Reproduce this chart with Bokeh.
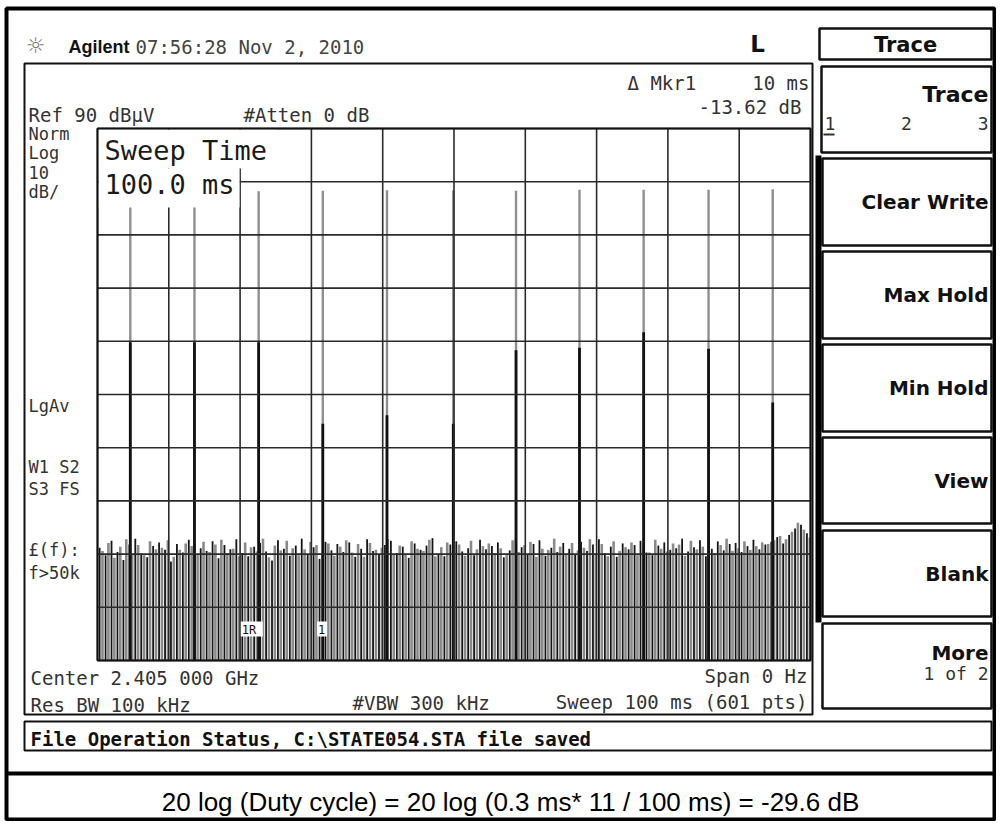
import numpy as np
from bokeh.plotting import figure
from bokeh.models import Range1d
from bokeh.core.properties import value
from bokeh.embed import file_html
from bokeh.resources import INLINE

# ---------------- data ----------------
sweep_ms = 100.0          # Sweep 100 ms
ref_level = 90.0          # Ref 90 dBuV
db_per_div = 10.0         # 10 dB/div, 10 divisions
n_div = 10

# 11 burst pulses (ms) and their peak levels (dBuV)
pulse_t = [4.6, 13.6, 22.6, 31.6, 40.6, 49.9, 58.7, 67.6, 76.6, 85.7, 94.7]
pulse_peak_gray = [78.5, 78.5, 78.2, 78.3, 78.4, 78.4, 78.3, 78.5, 78.5, 78.5, 78.6]
pulse_peak_black = [49.8, 49.8, 49.8, 34.5, 36.1, 34.5, 48.3, 48.8, 51.7, 48.6, 38.5]

# noise-floor line tops (dBuV), black and grey trace passes
noise_black = [
    11.2, 9.8, 12.5, 10.4, 8.9, 11.8, 12.9, 10.1, 9.4, 11.5, 12.2, 10.8, 8.6, 11.9, 10.3, 12.7, 9.9, 11.1, 10.6, 12.4,
    9.2, 11.7, 10.9, 12.8, 10.2, 9.6, 11.4, 12.1, 10.5, 8.8, 12.6, 11.0, 9.7, 11.6, 12.9, 10.0, 11.3, 9.1, 12.3, 10.7,
    11.9, 10.4, 12.2, 9.5, 11.0, 12.8, 10.6, 9.9, 11.7, 12.5, 10.2, 11.4, 9.3, 12.0, 10.8, 11.6, 13.0, 10.1, 9.6, 11.8,
    12.4, 10.5, 11.1, 9.8, 12.7, 10.9, 11.5, 12.2, 9.4, 10.7, 12.9, 11.3, 10.0, 11.9, 12.6, 9.7, 11.2, 10.4, 12.1, 11.0,
    9.9, 12.3, 10.6, 11.8, 12.8, 10.2, 11.4, 9.5, 12.0, 10.9, 11.7, 12.5, 10.3, 9.8, 11.6, 12.2, 10.8, 11.1, 12.9, 10.5,
    11.3, 12.6, 9.6, 11.0, 12.4, 10.7, 11.9, 12.1, 10.4, 11.5, 12.7, 10.9, 11.8, 12.3, 13.2, 12.0, 13.6, 14.8, 15.5, 13.9,
]
noise_gray = [
    10.6, 12.1, 9.3, 11.4, 12.8, 10.0, 11.7, 9.8, 12.4, 10.9, 11.2, 12.6, 9.5, 10.8, 12.0, 11.5, 9.9, 12.3, 10.4, 11.8,
    12.7, 10.2, 11.0, 9.6, 12.2, 11.3, 10.5, 12.9, 9.4, 11.6, 10.7, 12.5, 11.1, 9.8, 10.9, 12.3, 11.7, 10.1, 12.0, 9.7,
    11.4, 12.6, 10.3, 11.9, 9.5, 12.1, 10.8, 11.2, 12.8, 10.0, 11.6, 9.9, 12.4, 11.0, 10.6, 12.7, 9.6, 11.3, 12.2, 10.5,
    11.8, 9.7, 12.5, 10.9, 11.5, 12.0, 10.2, 11.1, 9.8, 12.6, 10.4, 11.7, 12.3, 9.5, 11.0, 10.8, 12.9, 11.4, 9.9, 12.1,
    10.7, 11.2, 12.8, 10.1, 11.9, 9.6, 12.4, 10.6, 11.3, 12.2, 9.8, 11.6, 10.3, 12.7, 11.0, 10.5, 12.0, 11.8, 9.7, 12.5,
    10.9, 11.4, 12.3, 10.2, 11.7, 12.9, 10.6, 11.1, 12.4, 10.8, 11.5, 12.2, 11.9, 12.6, 13.4, 12.8, 14.2, 15.9, 14.6, 13.1,
]

marker_t = [21.5, 31.5]          # delta marker pair (1R, 1)
marker_lbl = ["1R", "1"]

softkeys = ["Clear Write", "Max Hold", "Min Hold", "View", "Blank"]

# ---------------- layout (page pixels) ----------------
W, H = 996, 821
X0, Y0 = 0, 0
GX0, GX1, GY0, GY1 = 97.0, 810.0, 128.0, 660.0   # graticule
RX = 991                                          # right edge of right-hand boxes

p = figure(width=W, height=H, x_range=Range1d(X0, X0 + W), y_range=Range1d(Y0 + H, Y0),
           min_border=0, min_border_left=0, min_border_right=0, min_border_top=0, min_border_bottom=0,
           toolbar_location=None, output_backend="svg", background_fill_color="white",
           border_fill_color="white")
p.axis.visible = False
p.xgrid.visible = False
p.ygrid.visible = False
p.outline_line_color = None

# data ranges mapped onto the graticule
kx = (GX1 - GX0) / sweep_ms
bottom_db = ref_level - n_div * db_per_div
ky = (GY1 - GY0) / (n_div * db_per_div)
p.extra_x_ranges = {"t": Range1d((X0 - GX0) / kx, sweep_ms + (X0 + W - GX1) / kx)}
p.extra_y_ranges = {"db": Range1d(ref_level - (Y0 + H - GY0) / ky, ref_level - (Y0 - GY0) / ky)}
D = dict(x_range_name="t", y_range_name="db")

MONO = value("DejaVu Sans Mono")
SANS = value("DejaVu Sans")


def txt(x, y, s, size="19px", font=MONO, align="left", color="#2a2a2a", style="normal", **kw):
    p.text(x=[x], y=[y], text=[s], text_font=font, text_font_size=size, text_align=align,
           text_baseline="middle", text_color=color, text_font_style=style, **kw)


def box(l, r, t, b, lw=2.0, color="#111111", fill=None):
    p.quad(left=[l], right=[r], top=[t], bottom=[b], fill_color=fill, fill_alpha=1 if fill else 0,
           line_color=color, line_width=lw)


# ---------------- trace ----------------
nb = len(noise_black)
tb = np.linspace(0.3, sweep_ms - 0.5, nb)
tg = np.linspace(0.7, sweep_ms - 0.1, len(noise_gray))
p.segment(x0=tg, y0=[bottom_db] * len(tg), x1=tg, y1=noise_gray, line_color="#8a8a8a", line_width=2.6, **D)
p.segment(x0=tb, y0=[bottom_db] * nb, x1=tb, y1=noise_black, line_color="#151515", line_width=1.8, **D)
np_ = len(pulse_t)
p.segment(x0=pulse_t, y0=[bottom_db] * np_, x1=pulse_t, y1=pulse_peak_gray, line_color="#8f8f8f",
          line_width=2.4, **D)
p.segment(x0=pulse_t, y0=[bottom_db] * np_, x1=pulse_t, y1=pulse_peak_black, line_color="#111111",
          line_width=2.8, **D)

# graticule
vx = [i * sweep_ms / n_div for i in range(n_div + 1)]
hy = [ref_level - i * db_per_div for i in range(n_div + 1)]
p.segment(x0=vx, y0=[bottom_db] * len(vx), x1=vx, y1=[ref_level] * len(vx), line_color="#2a2a2a",
          line_width=1.6, **D)
p.segment(x0=[0] * len(hy), y0=hy, x1=[sweep_ms] * len(hy), y1=hy, line_color="#2a2a2a",
          line_width=1.6, **D)

# Sweep Time overlay box (covers trace)
p.quad(left=[GX0 + 1, GX0 + 1], right=[275, 239], top=[GY0 + 1, 168], bottom=[168, 207],
       fill_color="white", line_color=None)
txt(104, 150, "Sweep Time", size="27px", color="#1a1a1a")
txt(104, 184, "100.0 ms", size="27px", color="#1a1a1a")

# markers
for t, lb in zip(marker_t, marker_lbl):
    xm = GX0 + t * kx
    p.quad(left=[xm - 10 if lb == "1R" else xm - 5], right=[xm + 12 if lb == "1R" else xm + 5],
           top=[621], bottom=[636], fill_color="white", line_color=None)
    txt(xm - 9 if lb == "1R" else xm - 4, 629, lb, size="12px", color="#111")

# ---------------- frames ----------------
box(6, 994, 8, 819, lw=4, color="#000")
p.segment(x0=[6], y0=[773], x1=[994], y1=[773], line_color="#000", line_width=4)
box(24, 812, 63, 714, lw=2)
box(GX0, GX1, GY0, GY1, lw=2)
box(24, RX, 721, 750, lw=2)
box(819, RX, 28, 59, lw=2.5)

# softkey column
box(821, RX, 66, 152, lw=2.5)
sk_top = [158, 251, 344, 437, 530]
sk_bot = [245, 338, 431, 523, 616]
for t, b in zip(sk_top, sk_bot):
    box(822, RX, t, b, lw=2.5)
box(822, RX, 623, 708, lw=2.5)
p.quad(left=[815], right=[821], top=[155], bottom=[622], fill_color="#000", line_color=None)

# ---------------- texts ----------------
TR = RX - 3
txt(35, 45, "☼", size="22px", font=SANS, color="#777", align="center")
txt(68, 46, "Agilent", size="18px", font=value("Liberation Sans"), style="bold", color="#111")
txt(135, 46, "07:56:28  Nov 2, 2010", size="19px", color="#444")
txt(757, 43, "L", size="23px", font=SANS, style="bold", color="#111", align="center")
txt((819 + RX) / 2, 44, "Trace", size="21px", font=SANS, style="bold", color="#111", align="center")

txt(28, 114, "Ref 90 dBμV", color="#333")
txt(243, 114, "#Atten 0 dB", color="#333")
txt(627, 82, "Δ Mkr1", color="#333")
txt(809, 82, "10 ms", color="#333", align="right")
txt(801, 106, "-13.62 dB", color="#333", align="right")

for yy, s in [(133, "Norm"), (152, "Log"), (172, "10"), (191, "dB/")]:
    txt(28, yy, s, size="17px", color="#333")
for yy, s in [(405, "LgAv"), (466, "W1  S2"), (488, "S3  FS"), (549, "£(f):"), (572, "f>50k")]:
    txt(28, yy, s, size="17px", color="#333")

txt(30, 677, "Center 2.405 000 GHz", color="#333")
txt(807, 675, "Span 0 Hz", color="#333", align="right")
txt(30, 704, "Res BW 100 kHz", color="#333")
txt(352, 702, "#VBW 300 kHz", color="#333")
txt(807, 701, "Sweep 100 ms (601 pts)", color="#333", align="right")

txt(30, 738, "File Operation Status, C:\\STATE054.STA file saved", size="19px", style="bold", color="#111")

txt(TR, 94, "Trace", size="22px", font=SANS, style="bold", color="#111", align="right")
txt(824, 123, "1", size="18px", color="#333")
p.segment(x0=[823], y0=[134], x1=[834], y1=[134], line_color="#333", line_width=2)
txt(906, 123, "2", size="18px", color="#333", align="center")
txt(TR, 123, "3", size="18px", color="#333", align="right")

for (t, b), s in zip(zip(sk_top, sk_bot), softkeys):
    txt(TR, (t + b) / 2, s, size="20px", font=SANS, style="bold", color="#111", align="right")
txt(TR, 652, "More", size="20px", font=SANS, style="bold", color="#111", align="right")
txt(TR, 673, "1 of 2", size="18px", color="#333", align="right")

txt(510, 801, "20 log (Duty cycle) = 20 log (0.3 ms* 11 / 100 ms) = -29.6 dB", size="26px",
    font=value("Liberation Sans"), color="#000", align="center")

open("out.html", "w").write(file_html(p, INLINE))
